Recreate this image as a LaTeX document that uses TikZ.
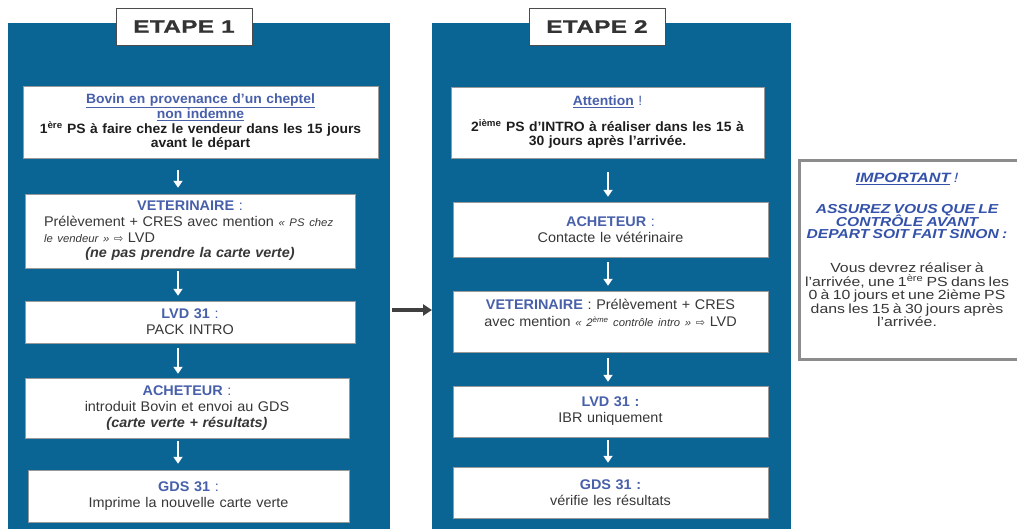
\documentclass[tikz,border=0pt]{standalone}
\usepackage{fontspec}
\setmainfont{Liberation Sans}[FakeStretch=1.03]
\newfontfamily\impfont{Liberation Sans}[FakeStretch=1.2]
\newfontfamily\etapefont{Liberation Sans}[FakeStretch=1.35, LetterSpace=2, FakeBold=1]
\newfontfamily\dejavu{DejaVu Sans}
\usetikzlibrary{arrows.meta}
\definecolor{panelblue}{RGB}{11,101,148}
\definecolor{lblue}{RGB}{72,96,170}
\definecolor{impblue}{RGB}{52,82,170}
\definecolor{txt}{RGB}{55,55,55}
\definecolor{dtxt}{RGB}{30,30,30}
\newcommand{\lab}[1]{{\color{lblue}\bfseries #1}}
\newcommand{\smit}[1]{{\fontsize{11}{11}\selectfont\itshape #1}}
\newcommand{\rarr}{{\dejavu\fontsize{11}{11}\selectfont ⇨}}
\tikzset{
  panel/.style={fill=panelblue, draw=none, anchor=north west, inner sep=0pt, outer sep=0pt},
  etape/.style={fill=white, draw=black!70, line width=0.8pt, minimum width=136pt, minimum height=37pt,
    inner sep=0pt, font=\etapefont\bfseries\fontsize{18}{18}\selectfont, text=black!80},
  box/.style={fill=white, draw=black!40, line width=0.5pt, align=center, inner sep=0pt,
    text=txt, font=\fontsize{14}{16}\selectfont},
  warr/.style={-{Triangle[width=9pt,length=7pt]}, draw=white, line width=2.2pt},
  barr/.style={-{Triangle[width=11pt,length=9pt]}, draw=black!75, line width=3.5pt},
  impbox/.style={fill=white, draw=black!45, line width=2.5pt, anchor=north west, inner sep=0pt}
}
\begin{document}
\begin{tikzpicture}[x=1pt, y=-1pt]
\useasboundingbox (0,0) rectangle (1017,528);
\clip (0,0) rectangle (1017,528);
\fill[white] (0,0) rectangle (1017,528);
% panels
\node[panel, minimum width=382pt, minimum height=520pt] (p1) at (8,23) {};
\node[panel, minimum width=359pt, minimum height=520pt] (p2) at (432,23) {};
\node[etape] (e1) at (184,26.5) {\raisebox{-2.5pt}{ETAPE 1}};
\node[etape] (e2) at (597,26.5) {\raisebox{-2.5pt}{ETAPE 2}};
% step 1 boxes
\node[box, minimum width=355pt, minimum height=72pt, text width=340pt, text=dtxt,
  font=\bfseries\fontsize{13.5}{14.3}\selectfont] (b11) at (200.5,122)
  {\textcolor{lblue}{\underline{Bovin en provenance d’un cheptel}}\\
   \textcolor{lblue}{\underline{non indemne}}\\
   1\textsuperscript{ère} PS à faire chez le vendeur dans les 15 jours\\
   avant le départ};
\node[box, minimum width=330pt, minimum height=74pt, text width=300pt,
  font=\fontsize{14}{15.7}\selectfont] (b12) at (190,231)
  {\lab{VETERINAIRE} {\color{lblue}:}\\
   \makebox[292pt][l]{Prélèvement + CRES avec mention \smit{« PS chez}}\\
   \makebox[292pt][l]{\smit{le vendeur »} \rarr{} LVD}\\
   {\bfseries\itshape (ne pas prendre la carte verte)}};
\node[box, minimum width=330pt, minimum height=42pt, text width=320pt] (b13) at (190,322)
  {\lab{LVD 31} {\color{lblue}:}\\ PACK INTRO};
\node[box, minimum width=324pt, minimum height=60pt, text width=314pt,
  font=\fontsize{14}{15.8}\selectfont] (b14) at (187,408)
  {\lab{ACHETEUR} {\color{lblue}:}\\ introduit Bovin et envoi au GDS\\
   {\bfseries\itshape (carte verte + résultats)}};
\node[box, minimum width=321pt, minimum height=52pt, text width=311pt] (b15) at (188.5,496)
  {\lab{GDS 31} {\color{lblue}:}\\ Imprime la nouvelle carte verte};
% step 2 boxes
\node[box, minimum width=313pt, minimum height=71pt, text width=303pt, text=dtxt,
  font=\bfseries\fontsize{13.5}{14.5}\selectfont] (b21) at (607.5,122.5)
  {\textcolor{lblue}{\underline{Attention}} {\color{lblue}\mdseries !}\\[11pt]
   2\textsuperscript{ième} PS d’INTRO à réaliser dans les 15 à\\
   30 jours après l’arrivée.};
\node[box, minimum width=315pt, minimum height=55pt, text width=305pt] (b22) at (610.5,229.5)
  {\lab{ACHETEUR} {\color{lblue}:}\\ Contacte le vétérinaire};
\node[box, minimum width=315pt, minimum height=61pt, text width=305pt,
  font=\fontsize{14}{17}\selectfont] (b23) at (610.5,321.5)
  {\lab{VETERINAIRE} : Prélèvement + CRES\\
   avec mention \smit{« 2\textsuperscript{ème} contrôle intro »} \rarr{} LVD\\ ~};
\node[box, minimum width=315pt, minimum height=51pt, text width=305pt] (b24) at (610.5,411.5)
  {\lab{LVD 31} {\color{lblue}\bfseries :}\\ IBR uniquement};
\node[box, minimum width=315pt, minimum height=51pt, text width=305pt] (b25) at (610.5,492.5)
  {\lab{GDS 31} {\color{lblue}\bfseries :}\\ vérifie les résultats};
% arrow columns
\coordinate (ax1) at (178,0);
\coordinate (ax2) at (608,0);
\coordinate (ya) at (0,310);
\draw[warr] ([yshift=-12pt]b11.south -| ax1) -- ([yshift=6pt]b12.north -| ax1);
\draw[warr] ([yshift=-3pt]b12.south -| ax1) -- ([yshift=5pt]b13.north -| ax1);
\draw[warr] ([yshift=-5pt]b13.south -| ax1) -- ([yshift=4pt]b14.north -| ax1);
\draw[warr] ([yshift=-3pt]b14.south -| ax1) -- ([yshift=6pt]b15.north -| ax1);
\draw[warr] ([yshift=-14pt]b21.south -| ax2) -- ([yshift=5pt]b22.north -| ax2);
\draw[warr] ([yshift=-5pt]b22.south -| ax2) -- ([yshift=5pt]b23.north -| ax2);
\draw[warr] ([yshift=-6pt]b23.south -| ax2) -- ([yshift=4pt]b24.north -| ax2);
\draw[warr] ([yshift=-3pt]b24.south -| ax2) -- ([yshift=4pt]b25.north -| ax2);
% connector between steps
\draw[barr] ([xshift=2pt]p1.east |- ya) -- (p2.west |- ya);
% important box
\node[impbox, minimum width=224pt, minimum height=199pt] (imp) at (798,159) {};
\node[align=center, text width=218pt, inner sep=0pt, font=\impfont] (impt) at (907,250)
  {\lineskiplimit=-20pt
   {\color{impblue}\bfseries\itshape\fontsize{13.5}{13.5}\selectfont \underline{IMPORTANT} {\mdseries !}\par}
   \vspace{19pt}
   {\color{impblue}\bfseries\itshape\fontsize{13}{12.5}\selectfont ASSUREZ VOUS QUE LE\\ CONTRÔLE AVANT\\ DEPART SOIT FAIT SINON :\par}
   \vspace{20pt}
   {\color{txt}\fontsize{13.2}{13.6}\selectfont Vous devrez réaliser à\\ l’arrivée, une 1\textsuperscript{ère} PS dans les\\
    0 à 10 jours et une 2ième PS\\ dans les 15 à 30 jours après\\ l’arrivée.\par}};
\end{tikzpicture}
\end{document}
